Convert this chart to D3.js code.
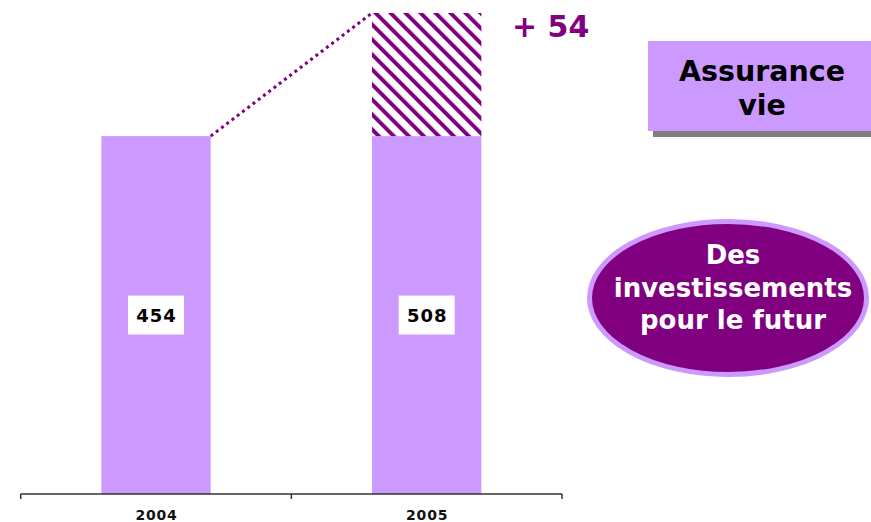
<!DOCTYPE html>
<html>
<head>
<meta charset="utf-8">
<script src="https://cdn.jsdelivr.net/npm/d3@7"></script>
<style>
  html, body { margin: 0; padding: 0; background: #ffffff; }
  svg { display: block; font-family: "DejaVu Sans", Verdana, sans-serif; }
</style>
</head>
<body>
<svg id="chart" width="871" height="522"></svg>
<script>
// ---- data ----
const categories = ["2004", "2005"];
const values = [454, 508];
const boxTitle = ["Assurance", "vie"];
const ellipseText = ["Des", "investissements", "pour le futur"];

// ---- layout / style ----
const W = 871, H = 522;
const barColor = "#cc99ff";
const purple = "#800080";
const baseY = 494;
const axisLeft = 20.7, axisRight = 562;
const yBreak = 297; // truncated value axis start

const svg = d3.select("#chart");
svg.append("rect").attr("width", W).attr("height", H).attr("fill", "#fff");

const x = d3.scaleBand().domain(categories).range([axisLeft, axisRight]).padding(0);
const y = d3.scaleLinear().domain([yBreak, d3.max(values)]).range([baseY, 13]);
const barW = x.bandwidth() * 0.404;
const barX = d => x(d) + (x.bandwidth() - barW) / 2;

// hatch pattern
const defs = svg.append("defs");
const pat = defs.append("pattern")
  .attr("id", "hatch")
  .attr("patternUnits", "userSpaceOnUse")
  .attr("width", 10.6).attr("height", 10.6)
  .attr("patternTransform", "rotate(-45)");
pat.append("rect").attr("width", 10.6).attr("height", 10.6).attr("fill", "#fff");
pat.append("rect").attr("x", 0).attr("width", 4).attr("height", 10.6).attr("fill", purple);

// solid bars (2005 solid part up to the previous year's value)
const solidTop = categories.map((c, i) => i === 0 ? values[0] : values[i - 1]);
svg.selectAll("rect.bar").data(categories).join("rect")
  .attr("class", "bar")
  .attr("x", d => barX(d))
  .attr("width", barW)
  .attr("y", (d, i) => y(solidTop[i]))
  .attr("height", (d, i) => baseY - y(solidTop[i]))
  .attr("fill", barColor);

// hatched increase
svg.append("rect")
  .attr("x", barX(categories[1]))
  .attr("width", barW)
  .attr("y", y(values[1]))
  .attr("height", y(values[0]) - y(values[1]))
  .attr("fill", "url(#hatch)");

// dotted connector
svg.append("line")
  .attr("x1", barX(categories[0]) + barW).attr("y1", y(values[0]))
  .attr("x2", barX(categories[1])).attr("y2", y(values[1]))
  .attr("stroke", purple).attr("stroke-width", 3)
  .attr("stroke-dasharray", "3,3.6");

// delta label
svg.append("text")
  .attr("x", 512).attr("y", 37)
  .attr("fill", purple).attr("font-weight", "bold").attr("font-size", 30)
  .text("+ " + (values[1] - values[0]));

// value labels
categories.forEach((c, i) => {
  const cx = x(c) + x.bandwidth() / 2;
  const cy = (y(solidTop[i]) + baseY) / 2;
  svg.append("rect")
    .attr("x", cx - 28).attr("y", cy - 19.5)
    .attr("width", 56).attr("height", 39).attr("fill", "#fff");
  svg.append("text")
    .attr("x", cx + 0.5).attr("y", cy + 6.5)
    .attr("text-anchor", "middle")
    .attr("font-weight", "bold").attr("font-size", 18)
    .attr("letter-spacing", 1)
    .attr("fill", "#000")
    .text(values[i]);
});

// axis
const axisG = svg.append("g");
axisG.append("line")
  .attr("x1", axisLeft).attr("x2", axisRight)
  .attr("y1", baseY).attr("y2", baseY)
  .attr("stroke", "#333").attr("stroke-width", 1.5);
const tickXs = categories.map(c => x(c)).concat([x.range()[1]]);
axisG.selectAll("line.tick").data(tickXs).join("line")
  .attr("class", "tick")
  .attr("x1", d => d).attr("x2", d => d)
  .attr("y1", baseY).attr("y2", baseY + 5)
  .attr("stroke", "#333").attr("stroke-width", 1.5);
axisG.selectAll("text.cat").data(categories).join("text")
  .attr("class", "cat")
  .attr("x", d => x(d) + x.bandwidth() / 2 + 0.5)
  .attr("y", 520)
  .attr("text-anchor", "middle")
  .attr("font-weight", "bold").attr("font-size", 14)
  .attr("letter-spacing", 0.8)
  .attr("fill", "#111")
  .text(d => d);

// "Assurance vie" box with shadow
svg.append("rect").attr("x", 653).attr("y", 46).attr("width", 230).attr("height", 91).attr("fill", "#808080");
svg.append("rect").attr("x", 648).attr("y", 41).attr("width", 230).attr("height", 90).attr("fill", barColor);
svg.append("text")
  .attr("text-anchor", "middle").attr("font-weight", "bold").attr("font-size", 28.5)
  .attr("fill", "#000")
  .selectAll("tspan").data(boxTitle).join("tspan")
  .attr("x", 762).attr("y", (d, i) => 81 + i * 34)
  .text(d => d);

// ellipse
svg.append("ellipse")
  .attr("cx", 728).attr("cy", 298).attr("rx", 138.5).attr("ry", 76.5)
  .attr("fill", purple).attr("stroke", barColor).attr("stroke-width", 5);
svg.append("text")
  .attr("text-anchor", "middle").attr("font-weight", "bold").attr("font-size", 26)
  .attr("fill", "#fff")
  .selectAll("tspan").data(ellipseText).join("tspan")
  .attr("x", 733).attr("y", (d, i) => 264 + i * 32.5)
  .text(d => d);
</script>
</body>
</html>
